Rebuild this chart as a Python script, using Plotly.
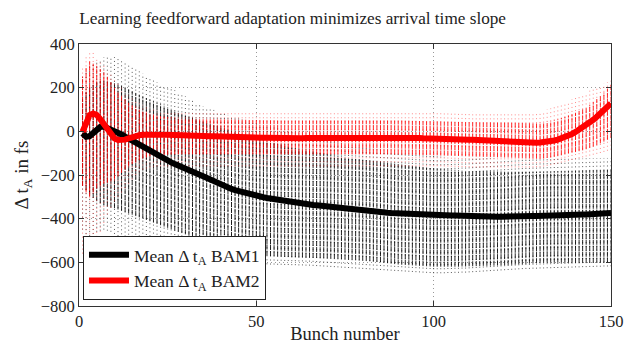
import plotly.graph_objects as go

bunch = list(range(1, 151))

# Mean arrival time deviation, BAM1 (fs)
bam1_mean = [
    -9, -25, -22, -8, 8, 20, 22, 16, 10, 4,
    -4, -14, -24, -33, -44, -56, -67, -77, -86, -94,
    -102, -110, -118, -126, -134, -142, -150, -158, -165, -172,
    -179, -186, -192, -199, -206, -214, -222, -230, -238, -246,
    -253, -259, -264, -269, -274, -279, -284, -288, -292, -296,
    -299, -302, -305, -308, -311, -314, -317, -320, -322, -325,
    -327, -329, -331, -333, -335, -337, -339, -341, -343, -345,
    -347, -349, -351, -353, -355, -357, -359, -361, -363, -365,
    -367, -368, -369, -370, -371, -372, -373, -374, -375, -376,
    -377, -378, -379, -379, -380, -380, -381, -381, -382, -382,
    -383, -383, -384, -384, -385, -385, -386, -386, -387, -387,
    -388, -389, -390, -390, -391, -391, -391, -391, -391, -390,
    -390, -390, -390, -389, -389, -389, -388, -388, -388, -387,
    -387, -386, -386, -385, -385, -384, -384, -383, -383, -382,
    -382, -381, -381, -380, -380, -379, -378, -377, -376, -374,
]

# Mean arrival time deviation, BAM2 (fs)
bam2_mean = [
    -2, 40, 75, 82, 75, 56, 36, 12, -14, -32,
    -40, -42, -38, -32, -26, -22, -18, -16, -15, -14,
    -14, -15, -15, -16, -16, -17, -17, -17, -18, -18,
    -19, -19, -20, -20, -21, -21, -22, -22, -23, -23,
    -24, -24, -25, -25, -26, -26, -27, -27, -28, -28,
    -29, -29, -29, -30, -30, -30, -31, -31, -31, -32,
    -32, -32, -32, -31, -31, -31, -30, -30, -30, -30,
    -30, -30, -30, -30, -30, -29, -29, -29, -28, -28,
    -28, -27, -27, -26, -26, -25, -25, -25, -26, -26,
    -27, -28, -29, -30, -31, -31, -32, -32, -32, -33,
    -33, -34, -34, -35, -35, -36, -36, -37, -37, -38,
    -39, -40, -40, -41, -42, -43, -44, -45, -45, -46,
    -47, -48, -49, -50, -51, -51, -52, -52, -52, -51,
    -50, -48, -45, -42, -38, -33, -27, -20, -12, -3,
    7, 17, 28, 40, 53, 67, 82, 97, 112, 128,
]

# Dense spread of single-shot values per bunch, BAM1
bam1_hi = [
    150, 180, 200, 215, 225, 230, 230, 228, 225, 220,
    215, 208, 200, 192, 184, 176, 168, 160, 152, 145,
    138, 131, 124, 117, 110, 103, 96, 90, 84, 78,
    72, 66, 60, 54, 48, 42, 36, 30, 25, 20,
    14, 8, 2, -4, -10, -15, -20, -25, -30, -34,
    -38, -42, -46, -50, -54, -58, -62, -66, -70, -74,
    -77, -80, -83, -86, -89, -92, -95, -98, -101, -104,
    -107, -110, -112, -115, -117, -120, -122, -125, -127, -130,
    -132, -134, -136, -138, -140, -142, -144, -146, -148, -150,
    -152, -154, -156, -158, -160, -162, -164, -166, -168, -170,
    -171, -172, -173, -174, -175, -176, -177, -178, -179, -180,
    -180, -181, -181, -182, -182, -183, -183, -184, -184, -185,
    -185, -185, -185, -185, -185, -185, -185, -185, -185, -185,
    -185, -185, -185, -184, -184, -183, -183, -182, -182, -181,
    -181, -180, -180, -179, -179, -178, -178, -177, -177, -176,
]
bam1_lo = [
    -250, -270, -290, -305, -320, -330, -338, -344, -348, -352,
    -358, -364, -370, -376, -382, -388, -394, -400, -406, -412,
    -418, -424, -430, -436, -442, -448, -454, -460, -466, -472,
    -478, -484, -490, -496, -502, -507, -512, -517, -522, -527,
    -531, -535, -539, -543, -547, -551, -554, -557, -560, -563,
    -565, -567, -569, -571, -572, -573, -574, -575, -576, -577,
    -577, -578, -578, -579, -579, -580, -580, -581, -581, -582,
    -582, -583, -584, -585, -586, -587, -588, -589, -590, -591,
    -592, -594, -596, -598, -600, -602, -604, -606, -608, -610,
    -611, -612, -613, -614, -615, -616, -617, -618, -619, -620,
    -620, -620, -620, -620, -620, -620, -620, -619, -619, -618,
    -618, -617, -617, -616, -616, -615, -615, -614, -614, -613,
    -612, -611, -610, -609, -608, -607, -606, -605, -604, -603,
    -602, -602, -602, -602, -602, -602, -602, -602, -602, -602,
    -602, -602, -602, -602, -602, -602, -602, -602, -602, -602,
]
# Sparse outliers per bunch, BAM1
bam1_out_hi = [
    250, 280, 300, 310, 320, 330, 340, 350, 345, 340,
    335, 325, 315, 305, 295, 285, 275, 265, 255, 245,
    235, 225, 215, 205, 200, 195, 188, 180, 170, 160,
    150, 140, 132, 124, 116, 110, 104, 98, 92, 86,
    80, 75, 70, 65, 60, 55, 50, 46, 42, 38,
    34, 30, 26, 22, 18, 14, 10, 6, 2, -2,
    -6, -10, -14, -18, -22, -26, -30, -34, -38, -42,
    -45, -48, -51, -54, -57, -60, -63, -66, -69, -72,
    -75, -78, -80, -82, -84, -86, -88, -90, -92, -94,
    -96, -98, -100, -102, -104, -106, -108, -110, -112, -114,
    -115, -116, -117, -118, -118, -119, -119, -120, -120, -121,
    -121, -122, -122, -123, -123, -124, -124, -125, -125, -126,
    -126, -126, -127, -127, -127, -128, -128, -128, -128, -128,
    -128, -128, -128, -127, -127, -127, -126, -126, -126, -125,
    -125, -125, -124, -124, -124, -123, -123, -122, -122, -122,
]
bam1_out_lo = [
    -450, -470, -480, -470, -460, -455, -450, -455, -460, -470,
    -480, -490, -500, -510, -520, -528, -536, -542, -548, -554,
    -560, -565, -570, -574, -578, -582, -585, -588, -591, -594,
    -596, -598, -600, -600, -600, -601, -601, -602, -602, -603,
    -603, -604, -604, -605, -605, -606, -606, -607, -607, -608,
    -608, -609, -609, -610, -610, -611, -611, -612, -612, -613,
    -613, -614, -614, -615, -615, -616, -617, -618, -619, -620,
    -621, -622, -623, -624, -625, -626, -627, -628, -629, -630,
    -631, -632, -633, -634, -635, -636, -637, -638, -639, -640,
    -641, -642, -643, -644, -645, -646, -647, -648, -649, -650,
    -650, -650, -650, -649, -649, -648, -648, -647, -647, -646,
    -645, -644, -643, -642, -641, -640, -639, -638, -637, -636,
    -635, -634, -633, -632, -631, -630, -630, -629, -629, -628,
    -628, -627, -627, -626, -626, -625, -625, -624, -624, -623,
    -623, -622, -622, -621, -621, -620, -620, -619, -619, -618,
]

# Dense spread of single-shot values per bunch, BAM2
bam2_hi = [
    250, 290, 320, 310, 300, 285, 270, 250, 225, 200,
    180, 160, 145, 130, 120, 110, 100, 92, 86, 80,
    76, 72, 70, 68, 66, 64, 62, 61, 60, 60,
    59, 59, 58, 58, 57, 57, 56, 56, 55, 55,
    55, 54, 54, 54, 53, 53, 53, 52, 52, 52,
    52, 51, 51, 51, 51, 50, 50, 50, 50, 50,
    50, 50, 50, 50, 50, 50, 50, 50, 50, 50,
    50, 50, 50, 50, 50, 50, 50, 50, 50, 50,
    50, 50, 50, 50, 50, 50, 50, 50, 50, 50,
    50, 49, 49, 48, 48, 47, 47, 46, 46, 45,
    45, 45, 44, 44, 44, 43, 43, 43, 42, 42,
    42, 42, 41, 41, 41, 41, 40, 40, 40, 40,
    40, 40, 40, 40, 40, 40, 40, 40, 40, 41,
    42, 44, 47, 51, 55, 61, 67, 73, 79, 85,
    93, 101, 110, 122, 134, 148, 162, 178, 196, 215,
]
bam2_lo = [
    -250, -280, -300, -280, -260, -250, -240, -235, -230, -220,
    -205, -190, -175, -160, -150, -140, -132, -125, -120, -115,
    -112, -110, -109, -108, -107, -106, -106, -105, -105, -105,
    -105, -105, -105, -105, -105, -105, -105, -105, -105, -105,
    -105, -105, -105, -105, -105, -105, -105, -105, -105, -105,
    -105, -105, -105, -105, -105, -105, -105, -105, -105, -105,
    -105, -105, -105, -105, -105, -105, -105, -105, -105, -105,
    -105, -105, -105, -105, -105, -105, -105, -105, -105, -105,
    -105, -105, -105, -105, -105, -105, -105, -105, -106, -106,
    -107, -107, -107, -108, -108, -108, -109, -109, -109, -110,
    -110, -111, -111, -112, -112, -113, -113, -114, -114, -115,
    -115, -116, -116, -117, -117, -118, -118, -119, -119, -120,
    -120, -121, -121, -122, -122, -123, -123, -124, -124, -125,
    -124, -122, -120, -117, -114, -110, -106, -102, -98, -95,
    -91, -87, -82, -76, -70, -63, -55, -47, -39, -30,
]
# Sparse outliers per bunch, BAM2
bam2_out_hi = [
    300, 340, 370, 360, 340, 320, 300, 280, 260, 240,
    220, 200, 180, 165, 150, 140, 130, 120, 112, 105,
    100, 98, 96, 95, 94, 93, 92, 92, 91, 91,
    90, 90, 90, 90, 90, 90, 90, 90, 90, 90,
    90, 90, 90, 90, 90, 90, 90, 90, 90, 90,
    90, 90, 90, 90, 90, 90, 90, 90, 90, 90,
    90, 90, 90, 90, 90, 90, 90, 90, 90, 90,
    92, 92, 92, 92, 92, 94, 94, 94, 94, 94,
    95, 95, 95, 95, 95, 95, 95, 95, 95, 95,
    95, 95, 95, 95, 95, 95, 95, 95, 95, 95,
    95, 95, 94, 94, 94, 93, 93, 93, 92, 92,
    92, 91, 91, 91, 90, 90, 90, 90, 90, 90,
    90, 90, 90, 90, 90, 90, 90, 90, 90, 92,
    95, 100, 105, 110, 115, 122, 130, 138, 146, 154,
    162, 170, 178, 186, 194, 202, 210, 218, 225, 232,
]
bam2_out_lo = [
    -560, -600, -600, -580, -520, -460, -420, -380, -350, -320,
    -300, -280, -260, -240, -220, -200, -185, -175, -170, -165,
    -162, -160, -160, -160, -160, -160, -160, -160, -160, -160,
    -160, -160, -160, -160, -160, -160, -160, -160, -160, -160,
    -160, -160, -160, -160, -160, -160, -160, -160, -160, -160,
    -160, -160, -160, -160, -160, -160, -160, -160, -160, -160,
    -160, -160, -160, -160, -160, -160, -160, -160, -160, -160,
    -160, -160, -160, -160, -160, -160, -160, -160, -160, -160,
    -160, -160, -160, -160, -160, -160, -160, -160, -160, -160,
    -160, -160, -160, -160, -160, -160, -160, -160, -160, -160,
    -160, -160, -161, -161, -162, -162, -163, -163, -164, -164,
    -165, -165, -165, -165, -165, -165, -165, -165, -165, -165,
    -165, -165, -165, -165, -165, -165, -165, -165, -164, -163,
    -161, -158, -155, -151, -147, -143, -139, -135, -131, -127,
    -123, -119, -115, -111, -107, -103, -99, -94, -89, -84,
]

x_ticks = [0, 50, 100, 150]
y_ticks = [-800, -600, -400, -200, 0, 200, 400]

FONT = "Liberation Serif, Times New Roman, serif"


def columns(xs, lo, hi):
    cx, cy = [], []
    for b, a, c in zip(xs, lo, hi):
        cx += [b, b, None]
        cy += [a, c, None]
    return cx, cy


fig = go.Figure()

# BAM1 columns (black)
ox, oy = columns(bunch, bam1_out_lo, bam1_out_hi)
fig.add_trace(go.Scatter(x=ox, y=oy, mode="lines", showlegend=False, hoverinfo="skip",
                         line=dict(color="rgba(0,0,0,0.65)", width=1, dash="1px,3px")))
cx, cy = columns(bunch, bam1_lo, bam1_hi)
fig.add_trace(go.Scatter(x=cx, y=cy, mode="lines", showlegend=False, hoverinfo="skip",
                         line=dict(color="rgba(0,0,0,0.85)", width=1, dash="5px,1px")))

# BAM2 columns (red)
ox, oy = columns(bunch, bam2_out_lo, bam2_out_hi)
fig.add_trace(go.Scatter(x=ox, y=oy, mode="lines", showlegend=False, hoverinfo="skip",
                         line=dict(color="rgba(255,40,40,0.55)", width=1, dash="1px,3px")))
cx, cy = columns(bunch, bam2_lo, bam2_hi)
fig.add_trace(go.Scatter(x=cx, y=cy, mode="lines", showlegend=False, hoverinfo="skip",
                         line=dict(color="rgba(255,0,0,0.85)", width=1, dash="5px,1px")))

# Mean curves
fig.add_trace(go.Scatter(x=bunch, y=bam1_mean, mode="lines", name="Mean Δ t<sub>A</sub> BAM1",
                         line=dict(color="black", width=6)))
fig.add_trace(go.Scatter(x=bunch, y=bam2_mean, mode="lines", name="Mean Δ t<sub>A</sub> BAM2",
                         line=dict(color="#ff0000", width=6)))

axis_common = dict(
    showline=True, linecolor="#333", linewidth=1, mirror="allticks",
    ticks="inside", ticklen=5, tickcolor="#333", automargin=False,
    showgrid=True, gridcolor="#999", griddash="1px,3px", gridwidth=1,
    zeroline=False, tickfont=dict(family=FONT, size=16.5, color="#222"),
)

fig.update_layout(
    width=624, height=344,
    margin=dict(l=79, r=13, t=44, b=38),
    paper_bgcolor="white", plot_bgcolor="white",
    font=dict(family=FONT, color="#222"),
    title=dict(text="Learning feedforward adaptation minimizes arrival time slope",
               x=0.469, xanchor="center", y=0.948, yanchor="middle", xref="container",
               font=dict(family=FONT, size=17.2, color="#222")),
    xaxis=dict(range=[0, 150], tickvals=x_ticks,
               title=dict(text="Bunch number", font=dict(family=FONT, size=18.5), standoff=0),
               **axis_common),
    yaxis=dict(range=[-800, 400], tickvals=y_ticks,
               title=dict(text="Δ t<sub>A</sub> in fs", font=dict(family=FONT, size=19), standoff=6),
               **axis_common),
    legend=dict(x=0.0075, y=0.023, xanchor="left", yanchor="bottom",
                bgcolor="white", bordercolor="#222", borderwidth=1,
                font=dict(family=FONT, size=17.5, color="#222"),
                tracegroupgap=2, itemwidth=40),
    showlegend=True,
)

fig.write_html("out.html")
